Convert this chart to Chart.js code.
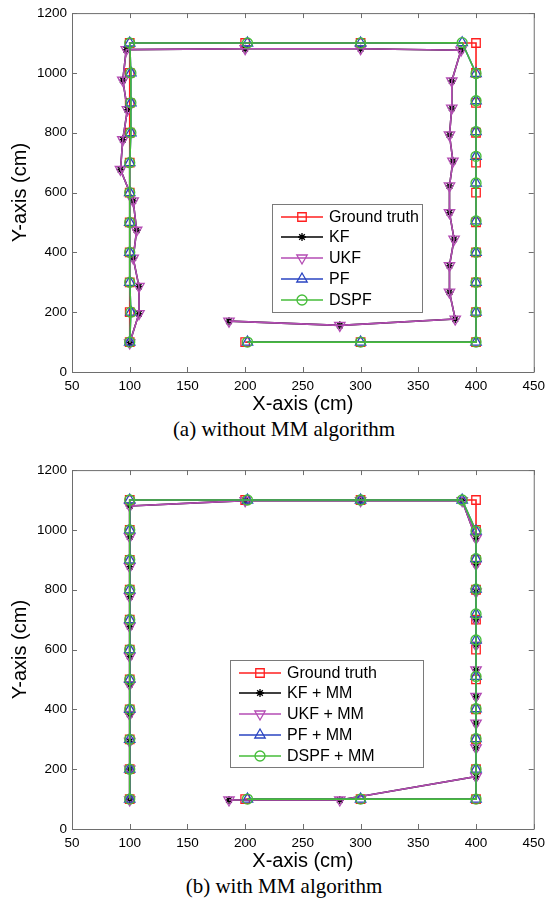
<!DOCTYPE html>
<html>
<head>
<meta charset="utf-8">
<script src="https://cdn.jsdelivr.net/npm/chart.js@4.4.1/dist/chart.umd.min.js"></script>
<style>
  body { margin: 0; background: #fff; }
  #page { position: relative; width: 551px; height: 900px; overflow: hidden; }
  .panel { position: absolute; left: 0; width: 551px; height: 416px; }
  .caption {
    position: absolute; left: 0; width: 568px; text-align: center;
    font-family: 'Liberation Serif', 'Times New Roman', serif;
    font-size: 21px; line-height: 24px; color: #000;
  }
</style>
</head>
<body>
<div id="page">
  <div class="panel" style="top:0"><canvas id="chart-a" width="551" height="416"></canvas></div>
  <div class="caption" style="top:417px">(a) without MM algorithm</div>
  <div class="panel" style="top:457px"><canvas id="chart-b" width="551" height="416"></canvas></div>
  <div class="caption" style="top:874px">(b) with MM algorithm</div>
</div>
<script>
// axis ranges / ticks
const xRange = [50, 450];
const xStep = 50;
const yRange = [0, 1200];
const yStep = 200;

const namesA = ['Ground truth', 'KF', 'UKF', 'PF', 'DSPF'];
const namesB = ['Ground truth', 'KF + MM', 'UKF + MM', 'PF + MM', 'DSPF + MM'];

// ground truth (same in both panels)
const truthX = [200, 300, 400, 400, 400, 400, 400, 400, 400, 400, 400, 400, 400, 300, 200, 100, 100, 100, 100, 100, 100, 100, 100, 100, 100, 100];
const truthY = [100, 100, 100, 200, 300, 400, 500, 600, 700, 800, 900, 1000, 1100, 1100, 1100, 1100, 1000, 900, 800, 700, 600, 500, 400, 300, 200, 100];

// (a) without MM
const kfAX = [186, 282, 382, 377, 377, 381, 377, 377, 380, 377, 379, 379, 387, 300, 200, 97, 94, 98, 94, 92, 103, 106, 103, 108, 108, 100];
const kfAY = [170, 156, 177, 267, 356, 444, 533, 622, 705, 793, 882, 973, 1076, 1081, 1081, 1078, 976, 877, 777, 677, 572, 474, 381, 286, 195, 98];
const ukfAX = [186, 282, 382, 377, 377, 381, 377, 377, 380, 377, 379, 379, 387, 300, 200, 97, 94, 98, 94, 92, 103, 106, 103, 108, 108, 100];
const ukfAY = [170, 156, 177, 267, 356, 444, 533, 622, 705, 793, 882, 973, 1076, 1081, 1081, 1078, 976, 877, 777, 677, 572, 474, 381, 286, 195, 97];
const pfAX = [202, 300, 400, 400, 400, 400, 400, 400, 400, 400, 400, 400, 388, 300, 202, 100, 101, 101, 101, 100, 100, 100, 100, 100, 101, 100];
const pfAY = [100, 100, 100, 200, 300, 400, 505, 632, 721, 804, 907, 998, 1101, 1100, 1100, 1100, 1000, 900, 800, 700, 600, 500, 400, 300, 200, 100];
const dspfAX = [202, 300, 400, 400, 400, 400, 400, 400, 400, 400, 400, 400, 388, 300, 202, 100, 101, 101, 101, 100, 100, 100, 100, 100, 101, 100];
const dspfAY = [100, 100, 100, 200, 300, 400, 505, 632, 721, 804, 907, 998, 1101, 1100, 1100, 1100, 1000, 900, 800, 700, 600, 500, 400, 300, 200, 100];

// (b) with MM
const kfBX = [186, 282, 400, 400, 400, 400, 400, 400, 400, 400, 400, 400, 388, 300, 200, 100, 100, 100, 100, 100, 100, 100, 100, 100, 100, 100];
const kfBY = [97, 97, 175, 271, 354, 443, 532, 615, 700, 793, 885, 972, 1098, 1098, 1098, 1080, 977, 877, 777, 677, 577, 483, 383, 293, 200, 100];
const ukfBX = [186, 282, 400, 400, 400, 400, 400, 400, 400, 400, 400, 400, 388, 300, 200, 100, 100, 100, 100, 100, 100, 100, 100, 100, 100, 100];
const ukfBY = [97, 97, 175, 271, 354, 443, 532, 615, 700, 793, 885, 972, 1098, 1098, 1098, 1080, 977, 877, 777, 677, 577, 483, 383, 293, 200, 97];
const pfBX = [202, 300, 400, 400, 400, 400, 400, 400, 400, 400, 400, 400, 388, 300, 202, 100, 100, 100, 100, 100, 100, 100, 100, 100, 100, 100];
const pfBY = [100, 100, 100, 200, 302, 402, 510, 632, 719, 802, 904, 996, 1100, 1100, 1100, 1100, 1000, 900, 800, 700, 600, 500, 400, 300, 200, 100];
const dspfBX = [202, 300, 400, 400, 400, 400, 400, 400, 400, 400, 400, 400, 388, 300, 202, 100, 100, 100, 100, 100, 100, 100, 100, 100, 100, 100];
const dspfBY = [100, 100, 100, 200, 302, 402, 510, 632, 719, 802, 904, 996, 1100, 1100, 1100, 1100, 1000, 900, 800, 700, 600, 500, 400, 300, 200, 100];

const styles = [
    { color: '#ff1f1f', pointStyle: 'rect', radius: 6, rotation: 0 },
    { color: '#000000', pointStyle: 'star', radius: 4, rotation: 0 },
    { color: '#b44cb4', pointStyle: 'triangle', radius: 6, rotation: 180 },
    { color: '#2a44c2', pointStyle: 'triangle', radius: 6, rotation: 0 },
    { color: '#46bd3a', pointStyle: 'circle', radius: 5, rotation: 0 }
];

const FONT = "'Liberation Sans', Arial, sans-serif";

function pts(xs, ys) {
    return xs.map((x, i) => ({ x: x, y: ys[i] }));
}

function makeDatasets(names, series) {
    return series.map((s, i) => ({
        label: names[i],
        data: pts(s[0], s[1]),
        showLine: true,
        borderColor: styles[i].color,
        backgroundColor: 'rgba(0,0,0,0)',
        borderWidth: 1.6,
        pointStyle: styles[i].pointStyle,
        pointRadius: styles[i].radius,
        pointRotation: styles[i].rotation,
        pointBorderColor: styles[i].color,
        pointBackgroundColor: 'rgba(0,0,0,0)',
        pointBorderWidth: 1.3,
        order: 5 - i
    }));
}

// box round the plot and inward ticks on all sides
const frame = {
    id: 'frame',
    afterDatasetsDraw(chart) {
        const { ctx, chartArea: a, scales } = chart;
        ctx.save();
        ctx.strokeStyle = '#6e6e6e';
        ctx.lineWidth = 1;
        ctx.beginPath();
        ctx.rect(a.left + 0.5, a.top + 0.5, a.right - a.left, a.bottom - a.top);
        const len = 5;
        scales.x.ticks.forEach(t => {
            const px = Math.round(scales.x.getPixelForValue(t.value)) + 0.5;
            ctx.moveTo(px, a.bottom); ctx.lineTo(px, a.bottom - len);
            ctx.moveTo(px, a.top); ctx.lineTo(px, a.top + len);
        });
        scales.y.ticks.forEach(t => {
            const py = Math.round(scales.y.getPixelForValue(t.value)) + 0.5;
            ctx.moveTo(a.left, py); ctx.lineTo(a.left + len, py);
            ctx.moveTo(a.right, py); ctx.lineTo(a.right - len, py);
        });
        ctx.stroke();
        ctx.restore();
    }
};

// MATLAB style legend box inside the plot
const boxLegend = {
    id: 'boxLegend',
    afterDraw(chart, args, opts) {
        const ctx = chart.ctx;
        const [x0, y0, x1, y1] = opts.box;
        ctx.save();
        ctx.fillStyle = '#ffffff';
        ctx.fillRect(x0, y0, x1 - x0, y1 - y0);
        ctx.strokeStyle = '#7a7a7a';
        ctx.lineWidth = 1;
        ctx.strokeRect(x0 + 0.5, y0 + 0.5, x1 - x0, y1 - y0);
        const mid = (opts.line[0] + opts.line[1]) / 2;
        chart.data.datasets.forEach((ds, i) => {
            const y = opts.rows[i];
            ctx.strokeStyle = ds.borderColor;
            ctx.lineWidth = ds.borderWidth;
            ctx.beginPath();
            ctx.moveTo(opts.line[0], y);
            ctx.lineTo(opts.line[1], y);
            ctx.stroke();
            ctx.fillStyle = 'rgba(0,0,0,0)';
            ctx.lineWidth = ds.pointBorderWidth;
            Chart.helpers.drawPoint(ctx, {
                pointStyle: ds.pointStyle,
                rotation: ds.pointRotation,
                radius: ds.pointRadius,
                borderWidth: ds.pointBorderWidth
            }, mid, y);
            ctx.fillStyle = '#000';
            ctx.font = '16px ' + FONT;
            ctx.textBaseline = 'middle';
            ctx.textAlign = 'left';
            ctx.fillText(ds.label, opts.textX, y + 1);
        });
        ctx.restore();
    }
};

function renderPanel(id, names, series, legendOpts) {
    const ctx = document.getElementById(id);
    return new Chart(ctx, {
        type: 'scatter',
        data: { datasets: makeDatasets(names, series) },
        plugins: [frame, boxLegend],
        options: {
            responsive: false,
            animation: false,
            events: [],
            layout: { padding: { top: 11, right: 11, left: 0, bottom: 0 } },
            plugins: {
                legend: { display: false },
                tooltip: { enabled: false },
                boxLegend: legendOpts
            },
            scales: {
                x: {
                    type: 'linear',
                    min: xRange[0],
                    max: xRange[1],
                    afterFit: s => { s.height = 44; },
                    grid: { display: false, drawTicks: false },
                    border: { display: false },
                    ticks: { stepSize: xStep, padding: 6, color: '#000', font: { family: FONT, size: 13.5 },
                             callback: v => String(v) },
                    title: { display: true, text: 'X-axis (cm)', color: '#000', padding: { top: 0, bottom: 0 }, font: { family: FONT, size: 20 } }
                },
                y: {
                    type: 'linear',
                    min: yRange[0],
                    max: yRange[1],
                    afterFit: s => { s.width = 72; },
                    grid: { display: false, drawTicks: false },
                    border: { display: false },
                    ticks: { stepSize: yStep, padding: 5, color: '#000', font: { family: FONT, size: 13.5 },
                             callback: v => String(v) },
                    title: { display: true, text: 'Y-axis (cm)', color: '#000', padding: { top: 8, bottom: 0 }, font: { family: FONT, size: 20 } }
                }
            }
        }
    });
}

renderPanel('chart-a', namesA, [
    [truthX, truthY], [kfAX, kfAY], [ukfAX, ukfAY], [pfAX, pfAY], [dspfAX, dspfAY]
], {
    box: [272, 204, 422, 312],
    rows: [217, 237, 258, 279, 300],
    line: [281, 323],
    textX: 329
});

renderPanel('chart-b', namesB, [
    [truthX, truthY], [kfBX, kfBY], [ukfBX, ukfBY], [pfBX, pfBY], [dspfBX, dspfBY]
], {
    box: [230, 203, 423, 310],
    rows: [216, 236, 257, 278, 299],
    line: [239, 281],
    textX: 287
});
</script>
</body>
</html>
